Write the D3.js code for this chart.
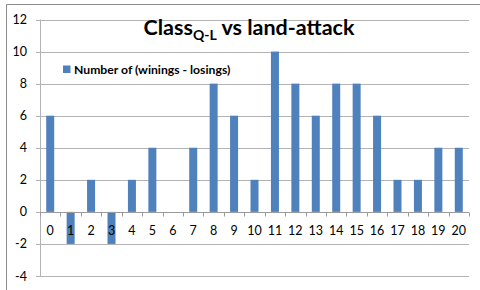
<!DOCTYPE html>
<html>
<head>
<meta charset="utf-8">
<script src="https://cdn.jsdelivr.net/npm/d3@7"></script>
<style>
  body { margin: 0; background: #fff; }
  text { font-family: Lato, "Open Sans", sans-serif; }
</style>
</head>
<body>
<div id="chart-area"></div>
<script>
const categories = ["0","1","2","3","4","5","6","7","8","9","10","11","12","13","14","15","16","17","18","19","20"];
const values = [6, -2, 2, -2, 2, 4, 0, 4, 8, 6, 2, 10, 8, 6, 8, 8, 6, 2, 2, 4, 4];
const yTicks = [-4, -2, 0, 2, 4, 6, 8, 10, 12];
const seriesName = "Number of (winings - losings)";

const width = 480, height = 290;
const plot = { left: 40, right: 469, top: 19.5, bottom: 276 };

const svg = d3
  .select("#chart-area")
  .append("svg")
  .attr("width", width)
  .attr("height", height);

// outer chart border (only top + left are visible in the crop)
svg.append("path")
  .attr("d", "M6.5,290 V4.5 H480")
  .attr("fill", "none")
  .attr("stroke", "#8c8c8c")
  .attr("stroke-width", 1);

const x = d3.scaleBand()
  .domain(categories)
  .range([plot.left, plot.right]);

const y = d3.scaleLinear()
  .domain([-4, 12])
  .range([plot.bottom, plot.top]);

// gridlines
svg.append("g")
  .selectAll("line")
  .data(yTicks)
  .enter()
  .append("line")
  .attr("x1", plot.left - 4)
  .attr("x2", plot.right)
  .attr("y1", (d) => Math.round(y(d)) + 0.5)
  .attr("y2", (d) => Math.round(y(d)) + 0.5)
  .attr("stroke", "#b3b3b3")
  .attr("stroke-width", 1);

// y axis line
svg.append("line")
  .attr("x1", plot.left + 0.5)
  .attr("x2", plot.left + 0.5)
  .attr("y1", plot.top)
  .attr("y2", plot.bottom + 0.5)
  .attr("stroke", "#b3b3b3");

// y tick labels
svg.append("g")
  .selectAll("text")
  .data(yTicks)
  .enter()
  .append("text")
  .attr("x", 27)
  .attr("y", (d) => y(d) + 4.5)
  .attr("text-anchor", "end")
  .attr("font-size", 12.5)
  .attr("fill", "#000")
  .text((d) => d);

// bars
svg.append("g")
  .selectAll("rect")
  .data(values)
  .enter()
  .append("rect")
  .attr("x", (d, i) => x(categories[i]) + (x.bandwidth() - 8) / 2)
  .attr("width", 8)
  .attr("y", (d) => y(Math.max(0, d)))
  .attr("height", (d) => Math.abs(y(d) - y(0)))
  .attr("fill", "#4f81bd");

// x axis at zero with ticks between categories
const zeroY = Math.round(y(0)) + 0.5;
svg.append("line")
  .attr("x1", plot.left)
  .attr("x2", plot.right)
  .attr("y1", zeroY)
  .attr("y2", zeroY)
  .attr("stroke", "#9a9a9a");

svg.append("g")
  .selectAll("line")
  .data(categories.concat(["end"]))
  .enter()
  .append("line")
  .attr("x1", (d, i) => Math.round(plot.left + i * x.step()) + 0.5)
  .attr("x2", (d, i) => Math.round(plot.left + i * x.step()) + 0.5)
  .attr("y1", zeroY)
  .attr("y2", zeroY + 4)
  .attr("stroke", "#9a9a9a");

// x labels
svg.append("g")
  .selectAll("text")
  .data(categories)
  .enter()
  .append("text")
  .attr("x", (d) => x(d) + x.bandwidth() / 2)
  .attr("y", 234.5)
  .attr("text-anchor", "middle")
  .attr("font-size", 12.5)
  .attr("fill", "#000")
  .text((d) => d);

// title
const title = svg.append("text")
  .attr("x", 249)
  .attr("y", 35)
  .attr("text-anchor", "middle")
  .attr("font-size", 21.5)
  .attr("font-weight", "bold")
  .attr("fill", "#000");
title.append("tspan").text("Class");
title.append("tspan").attr("font-size", 14).attr("dy", 5).text("Q-L");
title.append("tspan").attr("dy", -5).text(" vs land-attack");

// legend
svg.append("rect")
  .attr("x", 63)
  .attr("y", 65.5)
  .attr("width", 7.5)
  .attr("height", 7.5)
  .attr("fill", "#4f81bd");
svg.append("text")
  .attr("x", 74)
  .attr("y", 73.5)
  .attr("font-size", 12.2)
  .attr("font-weight", "bold")
  .attr("fill", "#000")
  .text(seriesName);
</script>
</body>
</html>
